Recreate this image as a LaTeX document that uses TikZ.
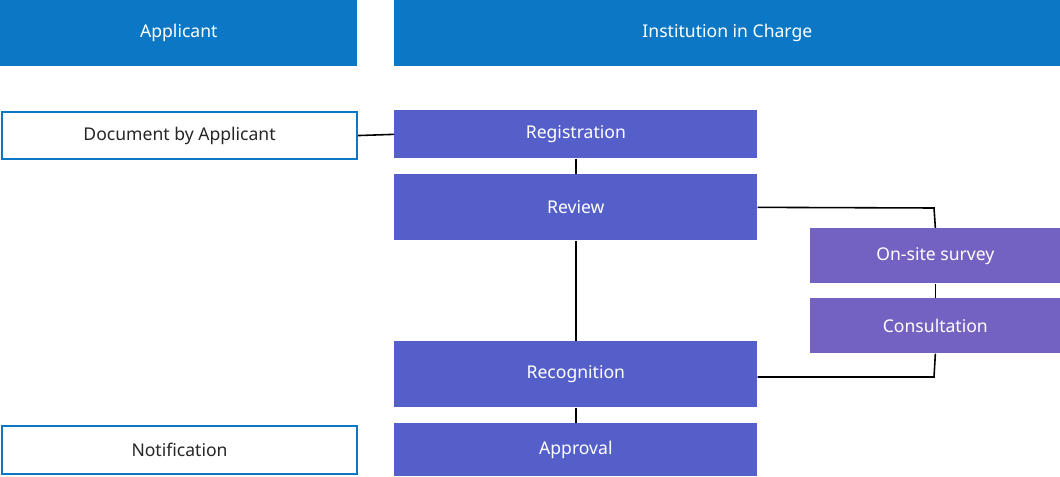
\documentclass[tikz,border=0pt]{standalone}
\usepackage{fontspec}
\setmainfont{Noto Sans}
\usetikzlibrary{positioning}
\definecolor{headblue}{HTML}{0B77C5}
\definecolor{stageblue}{HTML}{545FC9}
\definecolor{stagepurple}{HTML}{7362C1}
\tikzset{
  box/.style={anchor=north west, inner sep=0pt, font=\fontsize{10}{12}\selectfont},
  head/.style={box, fill=headblue, text=white},
  stage/.style={box, fill=stageblue, text=white},
  side/.style={box, fill=stagepurple, text=white},
  paper/.style={box, fill=white, draw=headblue, line width=1.2pt, text=black!85},
  link/.style={black, line width=0.9pt}
}
\begin{document}
\begin{tikzpicture}[x=0.02cm, y=-0.02cm]
\useasboundingbox (0,0) rectangle (1060,476);
% header bars
\node[head, minimum width=357*0.02cm, minimum height=66*0.02cm] (applicant) at (0,0) {Applicant};
\node[head, minimum width=666*0.02cm, minimum height=66*0.02cm] (institution) at (394,0) {Institution in Charge};
% applicant side
\node[paper, minimum width=355*0.02cm, minimum height=47*0.02cm] (document) at (1,111) {Document by Applicant};
\node[paper, minimum width=355*0.02cm, minimum height=48*0.02cm] (notification) at (1,425) {Notification};
% main stages
\node[stage, minimum width=363*0.02cm, minimum height=48*0.02cm] (registration) at (394,110) {Registration};
\node[stage, minimum width=363*0.02cm, minimum height=66*0.02cm] (review) at (394,174) {Review};
\node[stage, minimum width=363*0.02cm, minimum height=66*0.02cm] (recognition) at (394,341) {Recognition};
\node[stage, minimum width=363*0.02cm, minimum height=53*0.02cm] (approval) at (394,423) {Approval};
% side stages
\node[side, minimum width=250*0.02cm, minimum height=55*0.02cm] (survey) at (810,228) {On-site survey};
\node[side, minimum width=250*0.02cm, minimum height=55*0.02cm] (consultation) at (810,298) {Consultation};
\coordinate (corner1) at (934,208);
\coordinate (corner2) at (934,377);
% connectors
\draw[link] (document.east) -- (registration.west);
\draw[link] (registration) -- (review);
\draw[link] (review) -- (recognition);
\draw[link] (recognition) -- (approval);
\draw[link] (review.east) -- (corner1) -- (survey.north);
\draw[link] (survey) -- (consultation);
\draw[link] (consultation.south) -- (corner2) -- (recognition.east |- corner2);
\end{tikzpicture}
\end{document}
